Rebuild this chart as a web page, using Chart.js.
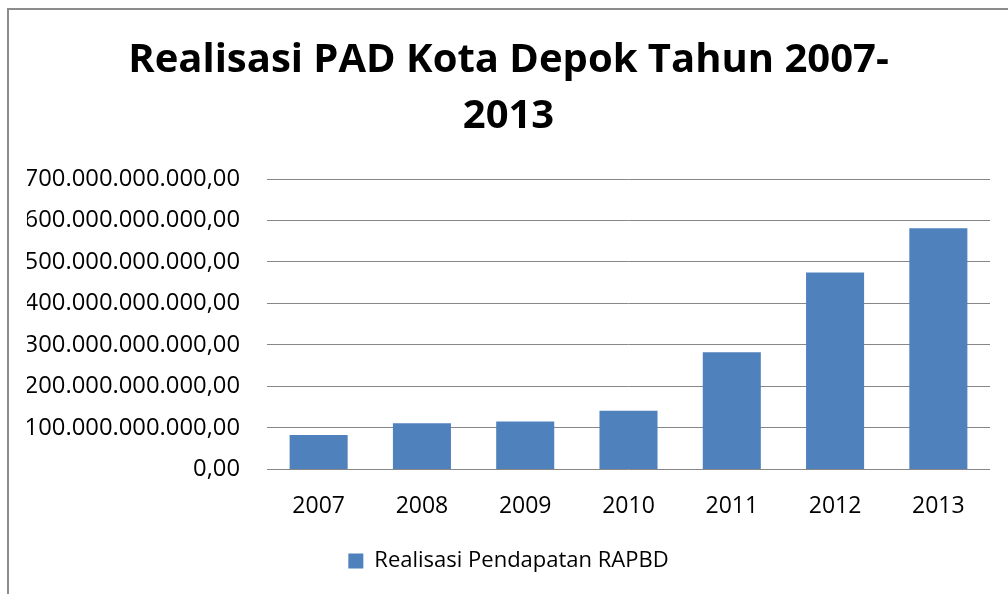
<!DOCTYPE html>
<html lang="id">
<head>
    <meta charset="UTF-8">
    <title>Realisasi PAD Kota Depok</title>
    <script src="https://cdn.jsdelivr.net/npm/chart.js"></script>
    <style>
        html, body {
            margin: 0;
            padding: 0;
            background: #fff;
            overflow: hidden;
            width: 1008px;
            height: 594px;
        }
        #frame {
            position: absolute;
            left: 7px;
            top: 8px;
            width: 1100px;
            height: 700px;
            border-top: 2px solid #8c8c8c;
            border-left: 2px solid #8c8c8c;
        }
        #chart {
            position: absolute;
            left: 0;
            top: 0;
        }
    </style>
</head>
<body>
    <div id="frame"></div>
    <canvas id="chart" width="1008" height="594"></canvas>

    <script>
        // data
        const years = ['2007', '2008', '2009', '2010', '2011', '2012', '2013'];
        const realisasi = [
            82800000000, 111300000000, 115200000000, 141200000000,
            282400000000, 474800000000, 581200000000
        ];
        const titleLines = ['Realisasi PAD Kota Depok Tahun 2007-', '2013'];
        const seriesName = 'Realisasi Pendapatan RAPBD';

        // 700000000000 -> "700.000.000.000,00"
        function formatRupiah(v) {
            return Math.round(v).toString().replace(/\B(?=(\d{3})+(?!\d))/g, '.') + ',00';
        }

        const ctx = document.getElementById('chart').getContext('2d');
        new Chart(ctx, {
            type: 'bar',
            data: {
                labels: years,
                datasets: [{
                    label: seriesName,
                    data: realisasi,
                    backgroundColor: '#4f81bd',
                    borderWidth: 0,
                    barPercentage: 0.562,
                    categoryPercentage: 1
                }]
            },
            options: {
                responsive: false,
                animation: false,
                layout: {
                    padding: { left: 27, right: 18, top: 0, bottom: 12 }
                },
                plugins: {
                    title: {
                        display: true,
                        text: titleLines,
                        color: '#000',
                        font: { family: 'Open Sans', size: 40, weight: 'bold', lineHeight: 1.4 },
                        padding: { top: 33, bottom: 34 }
                    },
                    legend: {
                        display: true,
                        position: 'bottom',
                        labels: {
                            color: '#000',
                            font: { family: 'Open Sans', size: 22 },
                            boxWidth: 15,
                            boxHeight: 15,
                            padding: 15
                        }
                    },
                    tooltip: { enabled: false }
                },
                scales: {
                    x: {
                        grid: { display: false },
                        border: { display: false },
                        ticks: {
                            color: '#000',
                            font: { family: 'Open Sans', size: 23 },
                            padding: 15
                        }
                    },
                    y: {
                        min: 0,
                        max: 700000000000,
                        // fixed axis width so the plot starts where the original does
                        afterFit: scale => { scale.width = 240; },
                        grid: {
                            color: '#878787',
                            lineWidth: 1,
                            drawTicks: false
                        },
                        border: { display: false },
                        ticks: {
                            stepSize: 100000000000,
                            color: '#000',
                            font: { family: 'Open Sans', size: 23.8 },
                            padding: 27,
                            callback: value => formatRupiah(value)
                        }
                    }
                }
            }
        });
    </script>
</body>
</html>
